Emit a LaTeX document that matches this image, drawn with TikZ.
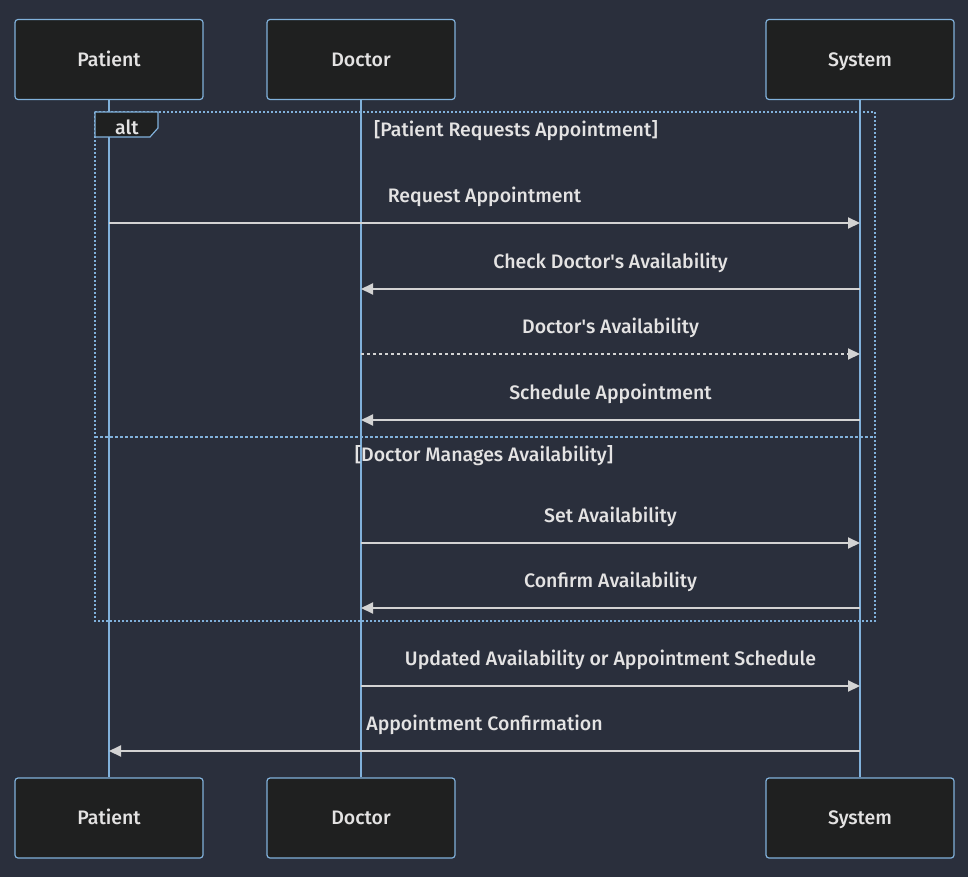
\documentclass[tikz,border=0pt]{standalone}
\usepackage{fontspec}
\setmainfont{Fira Sans}[UprightFont=* Medium]
\usetikzlibrary{arrows.meta}
\definecolor{bgcol}{RGB}{42,47,60}
\definecolor{boxcol}{RGB}{31,32,32}
\definecolor{lifecol}{RGB}{129,177,219}
\definecolor{msgcol}{RGB}{211,211,211}
\definecolor{txtcol}{RGB}{228,227,227}

\begin{document}
\begin{tikzpicture}[x=1pt, y=-1pt,
	actor/.style={draw=lifecol, fill=boxcol, line width=1.2pt, rounded corners=3pt,
		minimum width=188pt, minimum height=80pt, text=txtcol, text height=16pt, text depth=2.4pt,
		font=\fontsize{19.5}{23}\selectfont},
	life/.style={lifecol, line width=2pt},
	msg/.style={msgcol, line width=2pt, -{Triangle[length=12pt, width=11pt]}},
	reply/.style={msg, dash pattern=on 3pt off 3pt},
	lbl/.style={text=txtcol, font=\fontsize{19.5}{23}\selectfont},
	altline/.style={lifecol, line width=2pt, dash pattern=on 2pt off 2pt}
]
	\fill [bgcol] (0,0) rectangle (968,877);
	\foreach \n/\t/\x in {pat/Patient/109, doc/Doctor/361, sys/System/860}{
		\node [actor] (\n T) at (\x,59.5) {\t};
		\node [actor] (\n B) at (\x,818) {\t};
		\draw [life] (\n T) -- (\n B);
	}
	% alt frame
	\draw [altline] (95,112) rectangle (875,621);
	\draw [altline, dash pattern=on 3pt off 2pt] (95,437) -- (875,437);
	\draw [lifecol, fill=boxcol, line width=1.2pt] (95,112) -- (158,112) -- (158,128) -- (150,137) -- (95,137) -- cycle;
	\node [lbl] (alt) at (127,127) {alt};
	\node [lbl] (sec1) at (516,131) {[Patient Requests Appointment]};
	\node [lbl] (sec2) at (484,456) {[Doctor Manages Availability]};
	% messages
	\foreach \a/\b/\y/\s/\t in {
		pat/sys/223/msg/Request Appointment,
		sys/doc/289/msg/Check Doctor\textquotesingle s Availability,
		doc/sys/354/reply/Doctor\textquotesingle s Availability,
		sys/doc/420/msg/Schedule Appointment,
		doc/sys/543/msg/Set Availability,
		sys/doc/608/msg/Confirm Availability,
		doc/sys/686/msg/Updated Availability or Appointment Schedule,
		sys/pat/751/msg/Appointment Confirmation}{
		\draw [\s] (\a T |- 0,\y) -- (\b T |- 0,\y) node [lbl, midway, yshift=26pt] {\t};
	}
\end{tikzpicture}
\end{document}
